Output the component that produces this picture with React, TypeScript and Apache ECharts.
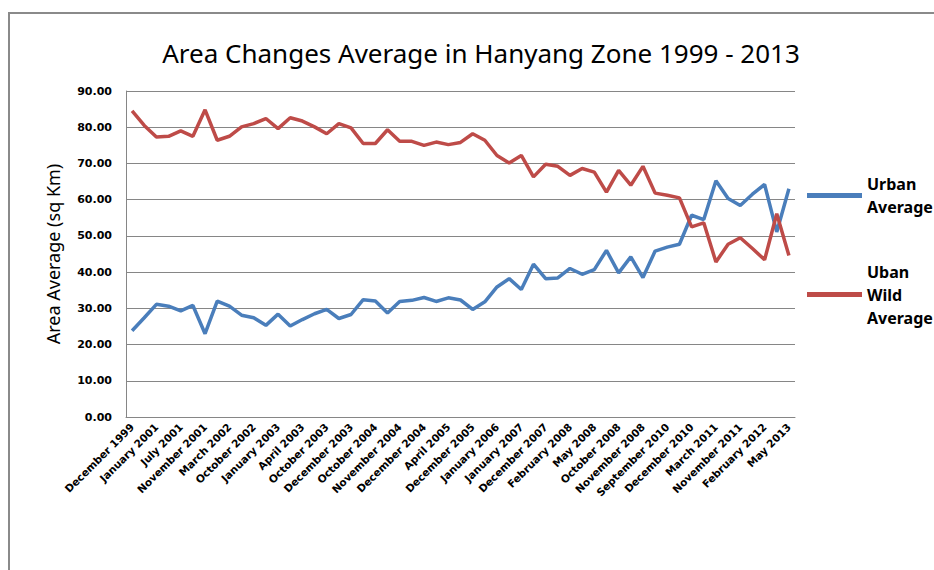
import React, { useEffect, useRef } from "react";
import * as echarts from "echarts";

const labeledDates = [
  "December 1999", "January 2001", "July 2001", "November 2001", "March 2002",
  "October 2002", "January 2003", "April 2003", "October 2003", "December 2003",
  "October 2004", "November 2004", "December 2004", "April 2005", "December 2005",
  "January 2006", "January 2007", "December 2007", "February 2008", "May 2008",
  "October 2008", "November 2008", "September 2010", "December 2010", "March 2011",
  "November 2011", "February 2012", "May 2013",
];

// 55 observations; only every other one carries a visible date label in the source
const categories: string[] = [];
labeledDates.forEach((d, i) => {
  categories.push(d);
  if (i < labeledDates.length - 1) categories.push("\u200B".repeat(i + 1));
});

const urbanAverage = [
  23.8, 27.4, 31.1, 30.6, 29.3, 30.8, 23.0, 32.0, 30.6, 28.1,
  27.4, 25.3, 28.4, 25.1, 26.9, 28.5, 29.7, 27.2, 28.3, 32.4,
  32.0, 28.7, 31.9, 32.2, 33.0, 31.9, 32.9, 32.3, 29.7, 31.8,
  35.9, 38.2, 35.2, 42.2, 38.2, 38.4, 41.0, 39.4, 40.7, 46.0,
  39.8, 44.2, 38.5, 45.8, 46.9, 47.7, 55.7, 54.5, 65.2, 60.3,
  58.4, 61.5, 64.2, 51.1, 63.0,
];

const ubanWildAverage = [
  84.5, 80.5, 77.3, 77.5, 79.0, 77.5, 84.8, 76.4, 77.5, 80.1,
  81.0, 82.4, 79.6, 82.6, 81.7, 80.1, 78.2, 81.0, 79.8, 75.5,
  75.5, 79.3, 76.1, 76.1, 75.0, 75.9, 75.2, 75.8, 78.2, 76.4,
  72.2, 70.1, 72.2, 66.3, 69.8, 69.2, 66.7, 68.6, 67.6, 62.1,
  68.1, 64.0, 69.2, 61.8, 61.2, 60.5, 52.5, 53.6, 42.8, 47.7,
  49.5, 46.5, 43.4, 56.1, 44.6,
];

const seriesNames = ["Urban\nAverage", "Uban\nWild\nAverage"];
const seriesColors = ["#4A7EBB", "#BE4B48"];

export default function App() {
  const ref = useRef<HTMLDivElement>(null);

  useEffect(() => {
    document.body.style.margin = "0";
    if (!ref.current) return;
    const chart = echarts.init(ref.current, null, { renderer: "svg" });
    const legendLine = 23;
    chart.setOption({
      animation: false,
      backgroundColor: "#ffffff",
      title: {
        text: "Area Changes Average in Hanyang Zone 1999 - 2013",
        left: 476,
        top: 35,
        textAlign: "center",
        textStyle: {
          fontFamily: "Noto Sans",
          fontSize: 26,
          fontWeight: "normal",
          color: "#000",
        },
      },
      graphic: [
        {
          type: "rect",
          shape: { x: 9, y: 13, width: 1000, height: 1000 },
          style: { fill: "none", stroke: "#8a8a8a", lineWidth: 2 },
          silent: true,
        },
      ],
      legend: [
        {
          data: [seriesNames[0]],
          left: 807,
          top: 184 - legendLine,
          padding: 0,
          icon: "rect",
          itemWidth: 55,
          itemHeight: 5,
          textStyle: {
            fontFamily: "Noto Sans",
            fontSize: 16,
            fontWeight: "bold",
            color: "#000",
            lineHeight: legendLine,
            padding: [legendLine, 0, 0, 0],
          },
        },
        {
          data: [seriesNames[1]],
          left: 807,
          top: 283 - legendLine * 2,
          padding: 0,
          icon: "rect",
          itemWidth: 55,
          itemHeight: 5,
          textStyle: {
            fontFamily: "Noto Sans",
            fontSize: 16,
            fontWeight: "bold",
            color: "#000",
            lineHeight: legendLine,
            padding: [legendLine * 2, 0, 0, 0],
          },
        },
      ],
      grid: { left: 126, right: 139, top: 91, bottom: 153 },
      xAxis: {
        type: "category",
        data: categories,
        boundaryGap: true,
        axisLine: { show: true, lineStyle: { color: "#868686", width: 1 } },
        axisTick: { show: false },
        axisLabel: {
          interval: 0,
          rotate: 45,
          margin: 8,
          fontFamily: "DejaVu Sans",
          fontSize: 10.5,
          fontWeight: "bold",
          color: "#000",
        },
      },
      yAxis: {
        type: "value",
        min: 0,
        max: 90,
        interval: 10,
        name: "Area Average (sq Km)",
        nameLocation: "middle",
        nameGap: 64,
        nameTextStyle: { fontFamily: "Noto Sans", fontSize: 18, color: "#000" },
        axisLine: { show: true, lineStyle: { color: "#868686", width: 1 } },
        axisTick: { show: false },
        splitLine: { lineStyle: { color: "#868686", width: 1 } },
        axisLabel: {
          formatter: (v: number) => v.toFixed(2),
          margin: 14,
          fontFamily: "DejaVu Sans",
          fontSize: 11,
          fontWeight: "bold",
          color: "#000",
        },
      },
      series: [
        {
          name: seriesNames[0],
          type: "line",
          data: urbanAverage,
          symbol: "none",
          color: seriesColors[0],
          lineStyle: { width: 3.5, color: seriesColors[0] },
        },
        {
          name: seriesNames[1],
          type: "line",
          data: ubanWildAverage,
          symbol: "none",
          color: seriesColors[1],
          lineStyle: { width: 3.5, color: seriesColors[1] },
        },
      ],
    });
    return () => chart.dispose();
  }, []);

  return <div ref={ref} style={{ width: 934, height: 570 }} />;
}
